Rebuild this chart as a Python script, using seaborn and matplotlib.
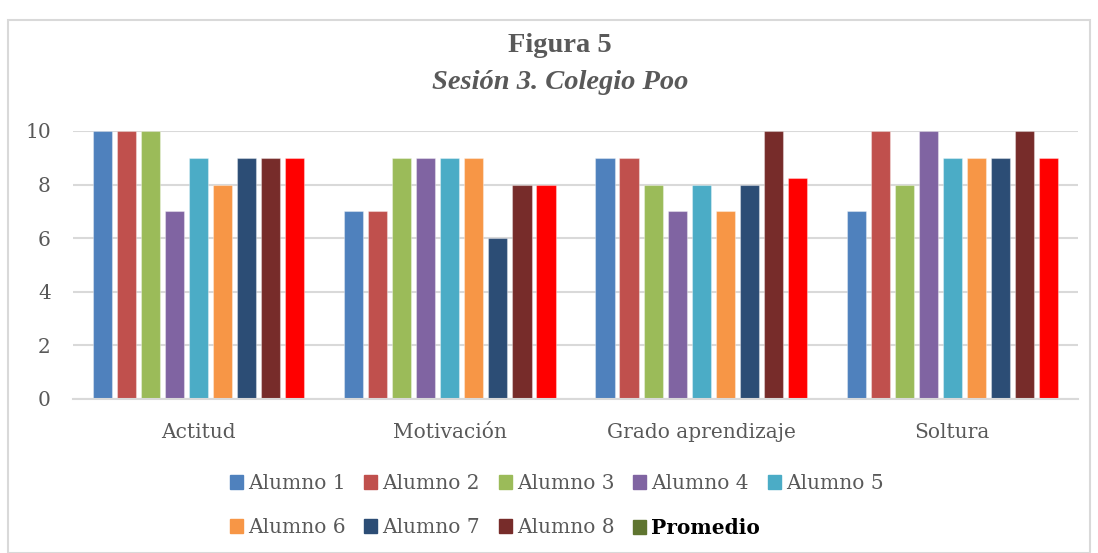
import matplotlib
matplotlib.use("Agg")
import matplotlib.pyplot as plt
import matplotlib.patches as mpatches
import seaborn as sns
import pandas as pd

categories = ["Actitud", "Motivación", "Grado aprendizaje", "Soltura"]
series_names = ["Alumno 1", "Alumno 2", "Alumno 3", "Alumno 4", "Alumno 5",
                "Alumno 6", "Alumno 7", "Alumno 8", "Promedio"]
alumno1 = [10, 7, 9, 7]
alumno2 = [10, 7, 9, 10]
alumno3 = [10, 9, 8, 8]
alumno4 = [7, 9, 7, 10]
alumno5 = [9, 9, 8, 9]
alumno6 = [8, 9, 7, 9]
alumno7 = [9, 6, 8, 9]
alumno8 = [9, 8, 10, 10]
promedio = [9, 8, 8.25, 9]
series_values = [alumno1, alumno2, alumno3, alumno4, alumno5,
                 alumno6, alumno7, alumno8, promedio]
y_ticks = [0, 2, 4, 6, 8, 10]

bar_colors = ["#4F81BD", "#C0504D", "#9BBB59", "#8064A2", "#4BACC6",
              "#F79646", "#2C4D75", "#772C2A", "#FF0000"]
legend_colors = bar_colors[:8] + ["#5F7530"]

rows = []
for name, vals in zip(series_names, series_values):
    for cat, v in zip(categories, vals):
        rows.append({"Criterio": cat, "Alumno": name, "Valor": v})
df = pd.DataFrame(rows)

sns.set_theme(style="white")
plt.rcParams["font.family"] = ["DejaVu Serif"]

fig = plt.figure(figsize=(10.98, 5.53), dpi=100)
W, H = 1098, 553
ax = fig.add_axes([73 / W, 1 - 399 / H, (1078 - 73) / W, (399 - 131) / H])

sns.barplot(data=df, x="Criterio", y="Valor", hue="Alumno",
            order=categories, hue_order=series_names,
            palette=bar_colors, width=0.86, gap=0.2, ax=ax,
            legend=False, saturation=1, errorbar=None,
            edgecolor=(1, 1, 1, 0.35), linewidth=0.8)

ax.set_ylim(0, 10)
ax.set_xlim(-0.5, 3.5)
ax.set_yticks(y_ticks)
ax.set_yticklabels([str(t) for t in y_ticks])
ax.set_axisbelow(True)
ax.yaxis.grid(True, color="#d9d9d9", linewidth=1.5)
ax.xaxis.grid(False)
for s in ["top", "right", "left"]:
    ax.spines[s].set_visible(False)
ax.spines["bottom"].set_color("#d9d9d9")
ax.spines["bottom"].set_linewidth(1.5)
ax.set_xlabel("")
ax.set_ylabel("")
ax.tick_params(axis="y", length=0, pad=16, labelsize=14.5, labelcolor="#595959")
ax.tick_params(axis="x", length=0, pad=17, labelsize=14.5, labelcolor="#595959")

# title
fig.text(0.51, 1 - 45 / H, "Figura 5", ha="center", va="center",
         fontsize=20.5, fontweight="bold", color="#595959",
         family=["Liberation Serif"])
fig.text(0.51, 1 - 82 / H, "Sesión 3. Colegio Poo", ha="center", va="center",
         fontsize=20.5, fontweight="bold", fontstyle="italic", color="#595959",
         family=["Liberation Serif"])

# legend: one small legend per column so columns sit at fixed positions
handles = [mpatches.Patch(color=c, label=n) for c, n in zip(legend_colors, series_names)]
col_x = [230, 364, 499, 633, 768]
columns = [[0, 5], [1, 6], [2, 7], [3, 8], [4]]
for x, idxs in zip(col_x, columns):
    leg = fig.legend([handles[i] for i in idxs], [series_names[i] for i in idxs],
                     ncol=1, loc="upper left",
                     bbox_to_anchor=(x / W, 1 - 474 / H),
                     frameon=False, fontsize=14.5, handlelength=0.65,
                     handleheight=0.65, handletextpad=0.25, labelspacing=1.25,
                     borderpad=0, borderaxespad=0)
    for t in leg.get_texts():
        t.set_color("#595959")
        if t.get_text() == "Promedio":
            t.set_color("black")
            t.set_fontweight("bold")

# chart border
border = mpatches.Rectangle((8 / W, 0.0), (1090 - 8) / W, 1 - 20 / H,
                            transform=fig.transFigure, fill=False,
                            edgecolor="#d9d9d9", linewidth=1.5)
fig.patches.append(border)

fig.savefig("out.png", dpi=100, facecolor="white")
